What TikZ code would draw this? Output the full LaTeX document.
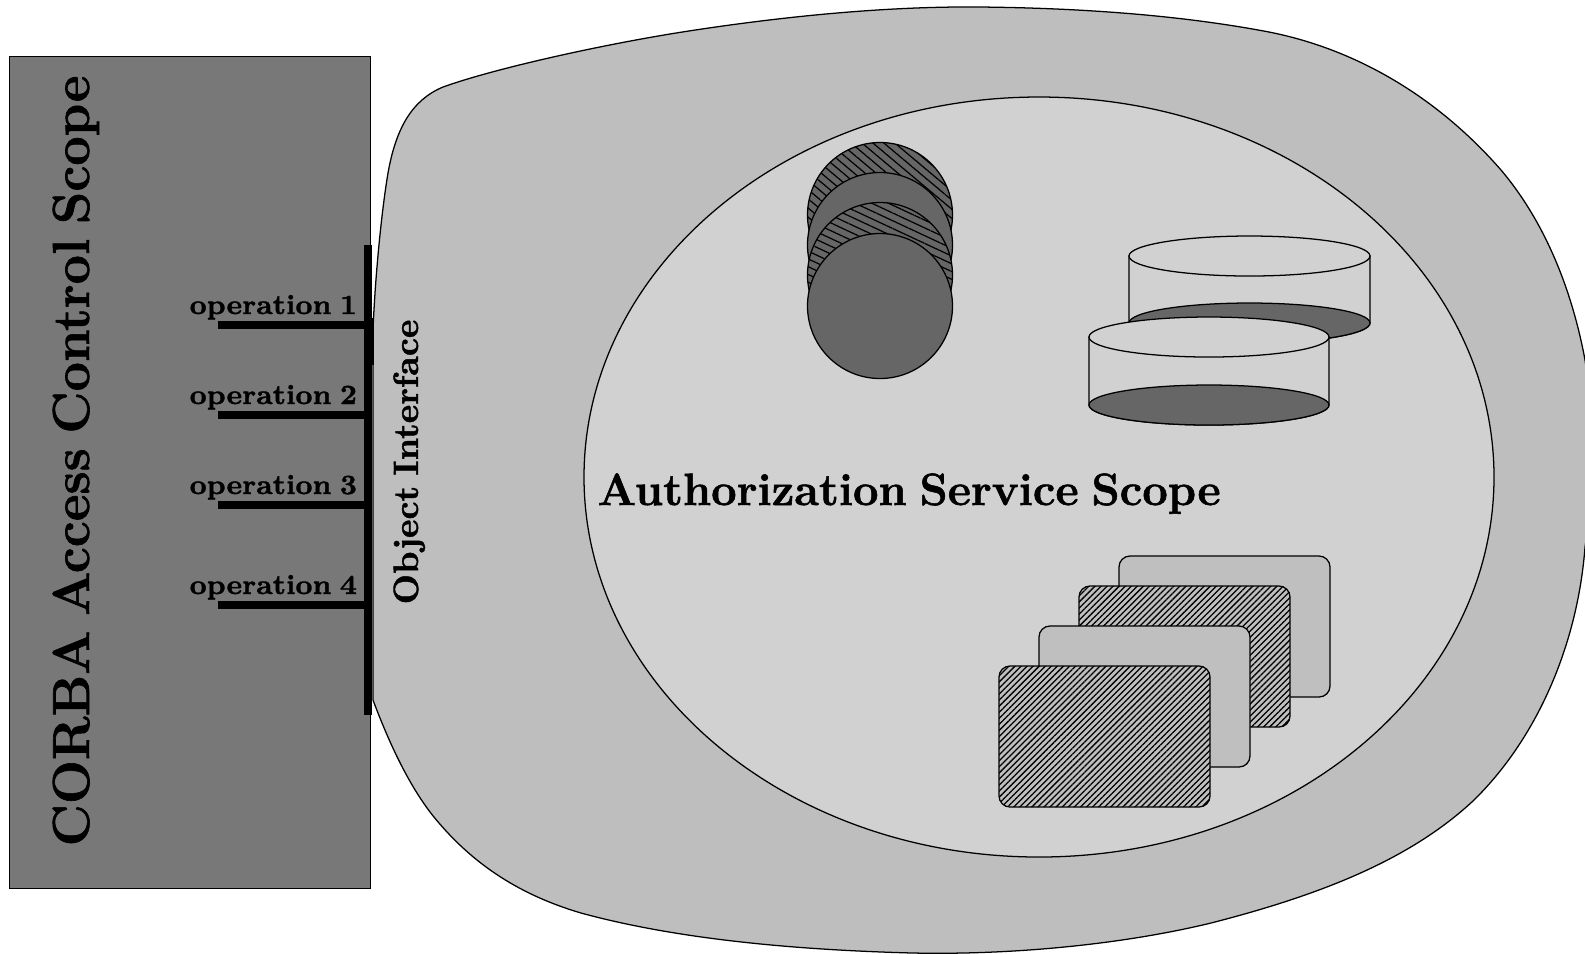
\documentclass[tikz,border=0pt]{standalone}
\usepackage{fontspec}
\setmainfont{Latin Modern Roman}[BoldFeatures={FakeBold=1.2,WordSpace=0.75}]
\usetikzlibrary{patterns.meta}
\definecolor{scopedark}{gray}{0.47}
\definecolor{blobgray}{gray}{0.745}
\definecolor{innergray}{gray}{0.82}
\definecolor{discdark}{gray}{0.4}
\definecolor{cardgray}{gray}{0.75}
\tikzset{
  outline/.style={draw=black,line width=0.36pt},
  thickbar/.style={draw=black,line width=2.1pt},
  disc/.style={outline,fill=discdark},
  hatchdisc/.style={outline,fill=discdark,postaction={pattern={Lines[angle=#1,distance=2pt,line width=0.35pt]},pattern color=black}},
  card/.style={outline,fill=cardgray,rounded corners=0.11cm},
  hatchcard/.style={outline,fill=cardgray,rounded corners=0.11cm,postaction={pattern={Lines[angle=45,distance=1.22pt,line width=0.36pt]},pattern color=black}},
  lab/.style={inner sep=0pt,text=black},
}
\begin{document}
\begin{tikzpicture}[x=0.01cm,y=-0.01cm]
\useasboundingbox (0,0) rectangle (1585,953);
\fill[white] (0,0) rectangle (1585,953);
% big scope
\path[outline,fill=blobgray] (373,700) -- (373,330)
  .. controls (375,280) and (381,215) .. (388,173)
  .. controls (396,128) and (412,100) .. (443,87)
  .. controls (490,70) and (590,47) .. (676,33)
  .. controls (770,18) and (880,6) .. (980,7)
  .. controls (1080,8) and (1180,15) .. (1269,32)
  .. controls (1360,50) and (1440,100) .. (1501,170)
  .. controls (1545,222) and (1572,290) .. (1585,360)
  .. controls (1594,420) and (1594,490) .. (1585,547)
  .. controls (1578,640) and (1540,735) .. (1474,800)
  .. controls (1410,860) and (1320,895) .. (1211,923)
  .. controls (1120,945) and (1010,955) .. (913,953)
  .. controls (800,950) and (680,940) .. (581,913)
  .. controls (520,895) and (475,865) .. (439,823)
  .. controls (410,790) and (388,740) .. (373,700) -- cycle;
\node[outline,fill=scopedark,minimum width=3.61cm,minimum height=8.31cm,anchor=north west,inner sep=0pt] (corba) at (9,56) {};
\path[outline,fill=innergray] (1039,477) ellipse [x radius=455,y radius=380];
% discs
\path[hatchdisc=-40] (880,215) circle [radius=72.5];
\path[disc] (880,245) circle [radius=72.5];
\path[hatchdisc=-25] (880,275) circle [radius=72.5];
\path[disc] (880,306) circle [radius=72.5];
% cylinders
\path[outline,fill=innergray] (1129,256) -- (1129,323) arc[start angle=180,end angle=360,x radius=120.5,y radius=-20] -- (1370,256) -- cycle;
\path[disc] (1249.5,323) ellipse [x radius=120.5,y radius=20];
\path[outline,fill=innergray] (1249.5,256) ellipse [x radius=120.5,y radius=20];
\path[outline,fill=innergray] (1089,337) -- (1089,405) arc[start angle=180,end angle=360,x radius=120,y radius=-20] -- (1329,337) -- cycle;
\path[disc] (1209,405) ellipse [x radius=120,y radius=20];
\path[outline,fill=innergray] (1209,337) ellipse [x radius=120,y radius=20];
% cards
\path[card] (1119,556) rectangle (1330,697);
\path[hatchcard] (1079,586) rectangle (1290,727);
\path[card] (1039,626) rectangle (1250,767);
\path[hatchcard] (999,666) rectangle (1210,807);
% interface
\coordinate (bartop) at (368,245);
\coordinate (barbot) at (368,715);
\coordinate (op1l) at (218,325); \coordinate (op1r) at (368,325);
\coordinate (op2l) at (218,415); \coordinate (op2r) at (368,415);
\coordinate (op3l) at (218,505); \coordinate (op3r) at (368,505);
\coordinate (op4l) at (218,605); \coordinate (op4r) at (368,605);
\coordinate (capt) at (370,318); \coordinate (capb) at (370,365);
\draw[thickbar] (bartop) -- (barbot);
\draw[thickbar] (capt) -- (capb);
\draw[thickbar] (op1l) -- (op1r);
\draw[thickbar] (op2l) -- (op2r);
\draw[thickbar] (op3l) -- (op3r);
\draw[thickbar] (op4l) -- (op4r);
% labels
\node[lab,anchor=base west,font=\bfseries\fontsize{7.9}{10}\selectfont] (t1) at (189,314) {operation 1};
\node[lab,anchor=base west,font=\bfseries\fontsize{7.9}{10}\selectfont] (t2) at (189,404) {operation 2};
\node[lab,anchor=base west,font=\bfseries\fontsize{7.9}{10}\selectfont] (t3) at (189,494) {operation 3};
\node[lab,anchor=base west,font=\bfseries\fontsize{7.9}{10}\selectfont] (t4) at (189,594) {operation 4};
\node[lab,anchor=base west,rotate=90,font=\bfseries\fontsize{10}{12}\selectfont] (oi) at (418,605) {Object Interface};
\node[lab,anchor=base west,rotate=90,font=\bfseries\fontsize{14.8}{20}\selectfont] (cs) at (89,847) {CORBA Access Control Scope};
\node[lab,anchor=base west,font=\bfseries\fontsize{12.87}{16}\selectfont] (as) at (597,505) {Authorization Service Scope};
\end{tikzpicture}
\end{document}
